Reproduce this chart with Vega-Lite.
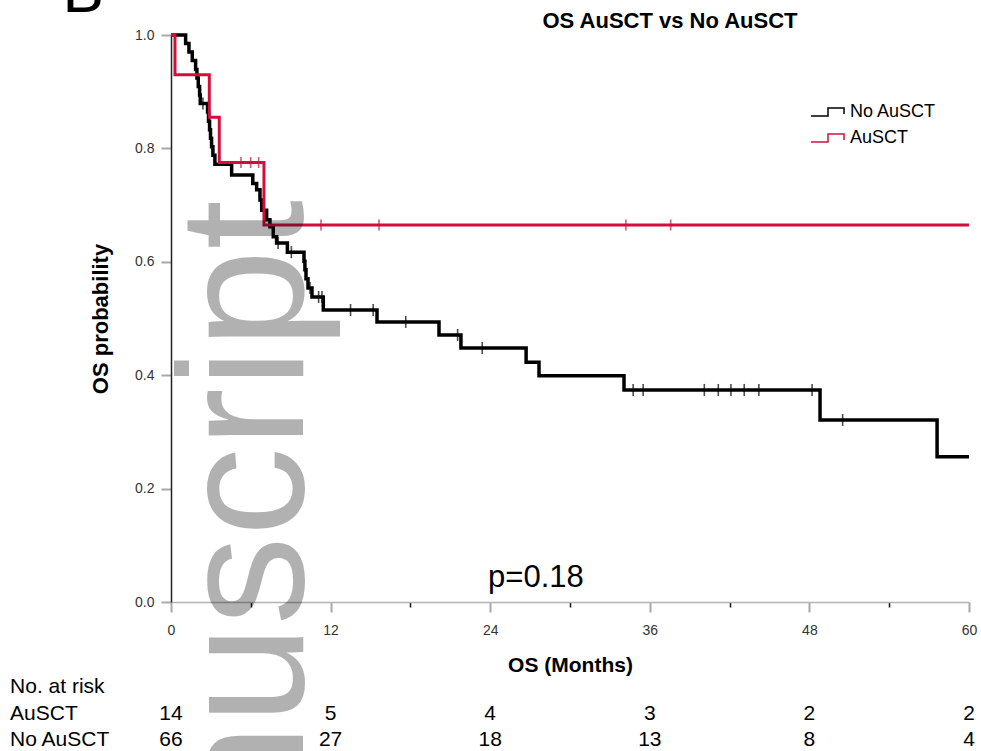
{
  "$schema": "https://vega.github.io/schema/vega-lite/v6.json",
  "width": 798,
  "height": 567,
  "autosize": "none",
  "padding": {"left": 171, "top": 35, "right": 12, "bottom": 149},
  "background": "white",
  "config": {"font": "Liberation Sans", "view": {"stroke": null}},
  "datasets": {
    "curves": [
      {"group": "No AuSCT", "time": 0, "surv": 1.0},
      {"group": "No AuSCT", "time": 1.1, "surv": 0.985},
      {"group": "No AuSCT", "time": 1.35, "surv": 0.970},
      {"group": "No AuSCT", "time": 1.6, "surv": 0.955},
      {"group": "No AuSCT", "time": 1.85, "surv": 0.939},
      {"group": "No AuSCT", "time": 1.95, "surv": 0.924},
      {"group": "No AuSCT", "time": 2.05, "surv": 0.909},
      {"group": "No AuSCT", "time": 2.15, "surv": 0.894},
      {"group": "No AuSCT", "time": 2.2, "surv": 0.879},
      {"group": "No AuSCT", "time": 2.75, "surv": 0.864},
      {"group": "No AuSCT", "time": 2.82, "surv": 0.848},
      {"group": "No AuSCT", "time": 2.9, "surv": 0.833},
      {"group": "No AuSCT", "time": 2.97, "surv": 0.818},
      {"group": "No AuSCT", "time": 3.05, "surv": 0.803},
      {"group": "No AuSCT", "time": 3.15, "surv": 0.788},
      {"group": "No AuSCT", "time": 3.3, "surv": 0.772},
      {"group": "No AuSCT", "time": 4.56, "surv": 0.753},
      {"group": "No AuSCT", "time": 6.15, "surv": 0.738},
      {"group": "No AuSCT", "time": 6.44, "surv": 0.727},
      {"group": "No AuSCT", "time": 6.69, "surv": 0.709},
      {"group": "No AuSCT", "time": 6.82, "surv": 0.691},
      {"group": "No AuSCT", "time": 7.19, "surv": 0.674},
      {"group": "No AuSCT", "time": 7.44, "surv": 0.662},
      {"group": "No AuSCT", "time": 7.69, "surv": 0.644},
      {"group": "No AuSCT", "time": 7.94, "surv": 0.633},
      {"group": "No AuSCT", "time": 8.75, "surv": 0.617},
      {"group": "No AuSCT", "time": 10.0, "surv": 0.601},
      {"group": "No AuSCT", "time": 10.07, "surv": 0.586},
      {"group": "No AuSCT", "time": 10.15, "surv": 0.570},
      {"group": "No AuSCT", "time": 10.3, "surv": 0.554},
      {"group": "No AuSCT", "time": 10.6, "surv": 0.538},
      {"group": "No AuSCT", "time": 11.45, "surv": 0.515},
      {"group": "No AuSCT", "time": 15.49, "surv": 0.494},
      {"group": "No AuSCT", "time": 20.15, "surv": 0.471},
      {"group": "No AuSCT", "time": 21.8, "surv": 0.448},
      {"group": "No AuSCT", "time": 26.7, "surv": 0.423},
      {"group": "No AuSCT", "time": 27.67, "surv": 0.399},
      {"group": "No AuSCT", "time": 34.06, "surv": 0.374},
      {"group": "No AuSCT", "time": 48.8, "surv": 0.321},
      {"group": "No AuSCT", "time": 57.6, "surv": 0.256},
      {"group": "No AuSCT", "time": 60, "surv": 0.256},
      {"group": "AuSCT", "time": 0, "surv": 1.0},
      {"group": "AuSCT", "time": 0.3, "surv": 0.930},
      {"group": "AuSCT", "time": 2.88, "surv": 0.855},
      {"group": "AuSCT", "time": 3.63, "surv": 0.775},
      {"group": "AuSCT", "time": 6.99, "surv": 0.665},
      {"group": "AuSCT", "time": 60, "surv": 0.665}
    ],
    "censors": [
      {"group": "No AuSCT", "time": 2.4, "surv": 0.879},
      {"group": "No AuSCT", "time": 8.05, "surv": 0.633},
      {"group": "No AuSCT", "time": 9.05, "surv": 0.617},
      {"group": "No AuSCT", "time": 10.45, "surv": 0.554},
      {"group": "No AuSCT", "time": 11.1, "surv": 0.538},
      {"group": "No AuSCT", "time": 11.35, "surv": 0.538},
      {"group": "No AuSCT", "time": 13.5, "surv": 0.515},
      {"group": "No AuSCT", "time": 15.2, "surv": 0.515},
      {"group": "No AuSCT", "time": 17.65, "surv": 0.494},
      {"group": "No AuSCT", "time": 21.55, "surv": 0.471},
      {"group": "No AuSCT", "time": 23.4, "surv": 0.448},
      {"group": "No AuSCT", "time": 34.75, "surv": 0.374},
      {"group": "No AuSCT", "time": 35.5, "surv": 0.374},
      {"group": "No AuSCT", "time": 40.1, "surv": 0.374},
      {"group": "No AuSCT", "time": 41.15, "surv": 0.374},
      {"group": "No AuSCT", "time": 42.1, "surv": 0.374},
      {"group": "No AuSCT", "time": 43.1, "surv": 0.374},
      {"group": "No AuSCT", "time": 44.2, "surv": 0.374},
      {"group": "No AuSCT", "time": 48.2, "surv": 0.374},
      {"group": "No AuSCT", "time": 50.5, "surv": 0.321},
      {"group": "AuSCT", "time": 5.26, "surv": 0.775},
      {"group": "AuSCT", "time": 5.99, "surv": 0.775},
      {"group": "AuSCT", "time": 6.59, "surv": 0.775},
      {"group": "AuSCT", "time": 11.28, "surv": 0.665},
      {"group": "AuSCT", "time": 15.64, "surv": 0.665},
      {"group": "AuSCT", "time": 34.2, "surv": 0.665},
      {"group": "AuSCT", "time": 37.57, "surv": 0.665}
    ],
    "atrisk": [
      {"row": "AuSCT", "time": 0, "n": 14},
      {"row": "AuSCT", "time": 12, "n": 5},
      {"row": "AuSCT", "time": 24, "n": 4},
      {"row": "AuSCT", "time": 36, "n": 3},
      {"row": "AuSCT", "time": 48, "n": 2},
      {"row": "AuSCT", "time": 60, "n": 2},
      {"row": "No AuSCT", "time": 0, "n": 66},
      {"row": "No AuSCT", "time": 12, "n": 27},
      {"row": "No AuSCT", "time": 24, "n": 18},
      {"row": "No AuSCT", "time": 36, "n": 13},
      {"row": "No AuSCT", "time": 48, "n": 8},
      {"row": "No AuSCT", "time": 60, "n": 4}
    ],
    "rowlabels": [
      {"row": "No. at risk"},
      {"row": "AuSCT"},
      {"row": "No AuSCT"}
    ]
  },
  "layer": [
    {
      "layer": [
        {
          "data": {"name": "curves"},
          "transform": [{"filter": "datum.group === 'No AuSCT'"}],
          "mark": {"type": "line", "interpolate": "step-after", "strokeWidth": 3.5},
          "encoding": {
            "x": {
              "field": "time", "type": "quantitative",
              "scale": {"domain": [0, 60], "nice": false, "zero": false},
              "axis": {
                "values": [0, 3, 6, 9, 12, 15, 18, 21, 24, 27, 30, 33, 36, 39, 42, 45, 48, 51, 54, 57, 60],
                "labelExpr": "datum.value % 12 === 0 ? datum.label : ''",
                "format": "d",
                "title": "OS (Months)",
                "titleFont": "Liberation Sans",
                "titleFontSize": 21,
                "titleFontWeight": "bold",
                "titleColor": "#000000",
                "titlePadding": 17,
                "labelFont": "Liberation Sans",
                "labelFontSize": 14,
                "labelColor": "#333333",
                "labelPadding": 11,
                "labelFlush": false,
                "labelOverlap": false,
                "tickColor": {"condition": {"test": "datum.value % 12 === 0", "value": "#a8a8a8"}, "value": "#111111"},
                "tickSize": {"condition": {"test": "datum.value % 12 === 0", "value": 10}, "value": 5},
                "tickWidth": {"condition": {"test": "datum.value % 12 === 0", "value": 2}, "value": 1.5},
                "domainColor": "#b4b4b4",
                "domainWidth": 1.5,
                "grid": false
              }
            },
            "y": {
              "field": "surv", "type": "quantitative",
              "scale": {"domain": [0, 1], "nice": false},
              "axis": {
                "values": [0, 0.2, 0.4, 0.6, 0.8, 1],
                "format": ".1f",
                "title": "OS probability",
                "titleFont": "Liberation Sans",
                "titleFontSize": 22,
                "titleFontWeight": "bold",
                "titleColor": "#000000",
                "titlePadding": 22,
                "labelFont": "Liberation Sans",
                "labelFontSize": 14,
                "labelColor": "#333333",
                "labelPadding": 7,
                "labelFlush": false,
                "tickColor": "#a8a8a8",
                "tickSize": 10,
                "tickWidth": 2,
                "domainColor": "#222222",
                "domainWidth": 1.5,
                "grid": false
              }
            },
            "color": {
              "field": "group", "type": "nominal",
              "scale": {"domain": ["No AuSCT", "AuSCT"], "range": ["#000000", "#d20f3c"]},
              "legend": {
                "orient": "none",
                "legendX": 639,
                "legendY": 67,
                "title": null,
                "symbolType": "M -1 0.44 H 0.89 V -0.44 H 2.67 V 0.22",
                "symbolSize": 324,
                "symbolStrokeWidth": 1.5,
                "symbolFillColor": "transparent",
                "labelFont": "Liberation Sans",
                "labelFontSize": 18,
                "labelColor": "#000000",
                "labelOffset": 20,
                "rowPadding": 7,
                "padding": 0
              }
            }
          }
        },
        {
          "data": {"name": "curves"},
          "transform": [{"filter": "datum.group === 'AuSCT'"}],
          "mark": {"type": "line", "interpolate": "step-after", "strokeWidth": 3},
          "encoding": {
            "x": {"field": "time", "type": "quantitative"},
            "y": {"field": "surv", "type": "quantitative"},
            "color": {"field": "group", "type": "nominal"}
          }
        },
        {
          "data": {"name": "censors"},
          "transform": [{"filter": "datum.group === 'No AuSCT'"}],
          "mark": {"type": "tick", "orient": "vertical", "size": 12, "thickness": 1.6, "color": "#000000"},
          "encoding": {
            "x": {"field": "time", "type": "quantitative"},
            "y": {"field": "surv", "type": "quantitative"}
          }
        },
        {
          "data": {"name": "censors"},
          "transform": [{"filter": "datum.group === 'AuSCT'"}],
          "mark": {"type": "tick", "orient": "vertical", "size": 11, "thickness": 1.6, "color": "#d20f3c"},
          "encoding": {
            "x": {"field": "time", "type": "quantitative"},
            "y": {"field": "surv", "type": "quantitative"}
          }
        },
        {
          "data": {"values": [{"label": "p=0.18"}]},
          "mark": {"type": "text", "align": "center", "baseline": "alphabetic", "fontSize": 31, "color": "#000000"},
          "encoding": {
            "x": {"datum": 27.44},
            "y": {"datum": 0.0265},
            "text": {"field": "label"}
          }
        },
        {
          "data": {"values": [{"label": "OS AuSCT vs No AuSCT"}]},
          "mark": {"type": "text", "align": "center", "baseline": "alphabetic", "fontSize": 22, "fontWeight": "bold", "color": "#000000"},
          "encoding": {
            "x": {"datum": 37.52},
            "y": {"datum": 1.0123},
            "text": {"field": "label"}
          }
        },
        {
          "data": {"values": [{"label": "B"}]},
          "mark": {"type": "text", "align": "left", "baseline": "alphabetic", "fontSize": 62, "color": "#000000"},
          "encoding": {
            "x": {"datum": -8.16},
            "y": {"datum": 1.0406},
            "text": {"field": "label"}
          }
        },
        {
          "data": {"values": [{"label": "Author Manuscript"}]},
          "mark": {"type": "text", "align": "right", "baseline": "alphabetic", "angle": 270, "fontSize": 178, "color": "#000000", "opacity": 0.3},
          "encoding": {
            "x": {"datum": 9.92},
            "y": {"datum": 0.709},
            "text": {"field": "label"}
          }
        }
      ]
    },
    {
      "layer": [
        {
          "data": {"name": "rowlabels"},
          "mark": {"type": "text", "align": "left", "baseline": "alphabetic", "fontSize": 21, "color": "#000000"},
          "encoding": {
            "x": {"datum": -12.1},
            "y": {
              "field": "row", "type": "ordinal",
              "scale": {"type": "point", "domain": ["No. at risk", "AuSCT", "No AuSCT"], "range": [658, 711], "padding": 0},
              "axis": null
            },
            "text": {"field": "row"}
          }
        },
        {
          "data": {"name": "atrisk"},
          "mark": {"type": "text", "align": "center", "baseline": "alphabetic", "fontSize": 21, "color": "#000000"},
          "encoding": {
            "x": {"field": "time", "type": "quantitative"},
            "y": {"field": "row", "type": "ordinal"},
            "text": {"field": "n"}
          }
        }
      ]
    }
  ],
  "resolve": {"scale": {"y": "independent"}}
}
